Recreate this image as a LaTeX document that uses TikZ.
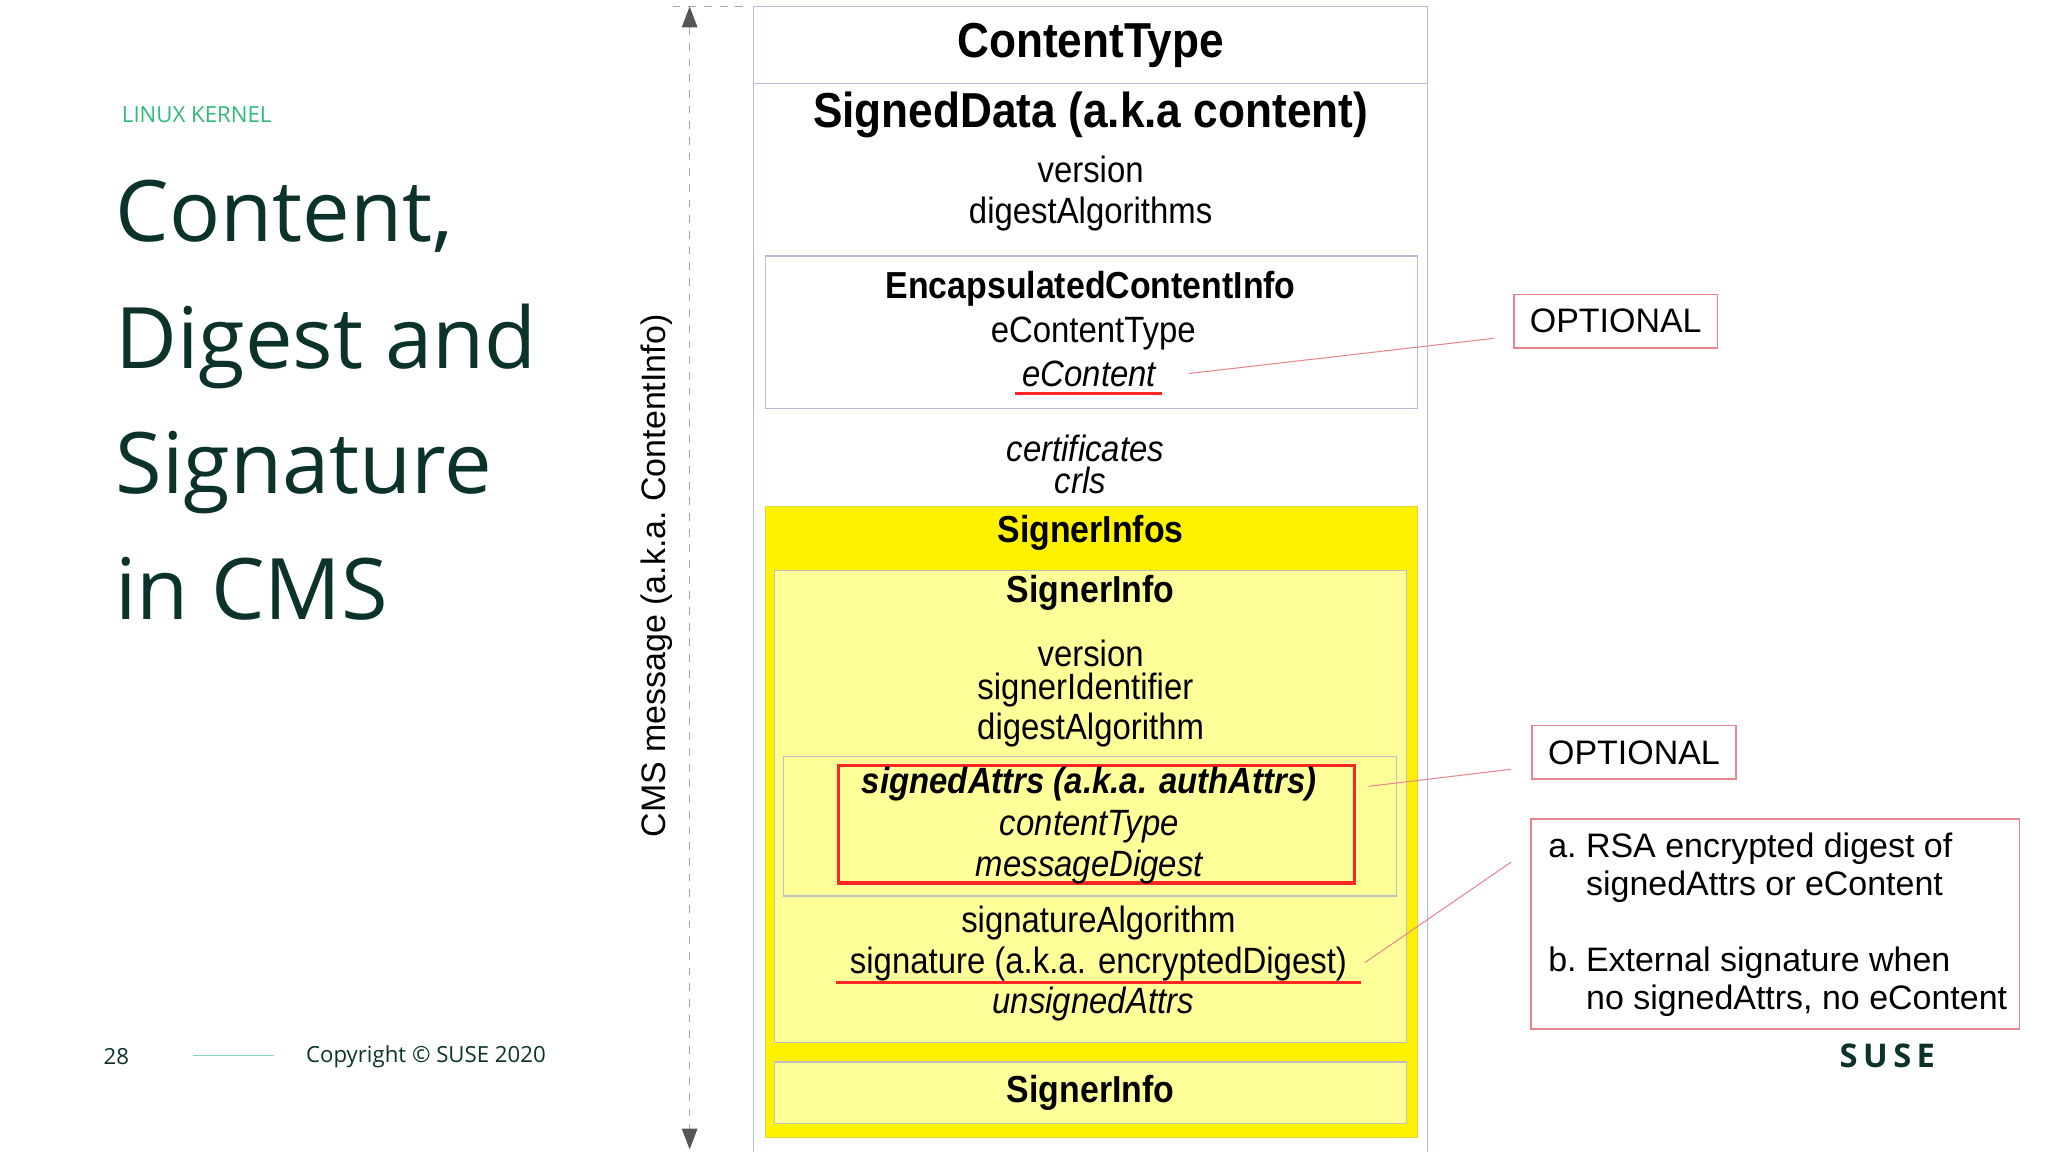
\documentclass[tikz,border=0pt]{standalone}
\usepackage{fontspec}
\setmainfont{Liberation Sans}
\newfontfamily\nar[FakeStretch=0.9]{Liberation Sans}
\newfontfamily\suse{Open Sans}
\usetikzlibrary{arrows.meta}
\definecolor{susegreen}{HTML}{0C322C}
\definecolor{lightgreen}{HTML}{30BA78}
\definecolor{boxblue}{HTML}{B4BCD8}
\definecolor{lyellow}{HTML}{FFFF99}
\definecolor{optred}{HTML}{E8868E}
\definecolor{tipgray}{HTML}{555555}
\tikzset{
 t/.style={inner sep=0pt,font=\nar\fontsize{14}{16}\selectfont},
 ti/.style={t,font=\nar\itshape\fontsize{14}{16}\selectfont},
 tb/.style={inner sep=0pt,font=\nar\bfseries\fontsize{14.4}{16}\selectfont},
 tbig/.style={inner sep=0pt,font=\nar\bfseries\fontsize{18.8}{20}\selectfont},
 optbox/.style={draw=optred,line width=0.6pt,inner sep=0pt},
 ttl/.style={anchor=base west,inner sep=0pt,text=susegreen,font=\suse\fontsize{32.5}{36}\selectfont},
 pin/.style={draw=optred,line width=0.4pt},
}
\begin{document}
\begin{tikzpicture}[x=0.5pt,y=-0.5pt]
\useasboundingbox[fill=white] (0,0) rectangle (1568,882);
% left side
\node[anchor=west,inner sep=0pt,text=lightgreen,font=\suse\fontsize{8.5}{10}\selectfont] (kern) at (93,88) {LINUX KERNEL};
\node[ttl] (l1) at (88,185) {Content,};
\node[ttl] (l2) at (88,282) {Digest and};
\node[ttl] (l3) at (88,378) {Signature};
\node[ttl] (l4) at (88,474) {in CMS};
\node[anchor=west,inner sep=0pt,text=susegreen,font=\suse\fontsize{8.5}{10}\selectfont] (pg) at (79,809) {28};
\draw[lightgreen!60,line width=0.5pt] (148,808) -- (210,808);
\node[anchor=west,inner sep=0pt,text=susegreen,font=\suse\fontsize{8.5}{10}\selectfont] (copy) at (234,809) {Copyright © SUSE 2020};
\node[inner sep=0pt,text=susegreen,font=\suse\bfseries\fontsize{12.5}{14}\selectfont] (logo) at (1445,808) {S\,U\,S\,E};
% CMS arrow
\coordinate (at) at (528,5);
\coordinate (ab) at (528,880);
\draw[gray!70,dashed,line width=0.4pt] (515,5) -- (572,5);
\draw[gray!70,dashed,line width=0.4pt,{Triangle[length=8pt,width=6pt,color=tipgray]}-{Triangle[length=8pt,width=6pt,color=tipgray]}] (at) -- (ab);
\node[rotate=90,inner sep=0pt,font=\fontsize{13}{15}\selectfont] (cms) at (503,441) {CMS message (a.k.a.\ ContentInfo)};
% outer box
\draw[boxblue,line width=0.5pt] (577,884) -- (577,5) -- (1093,5) -- (1093,884);
\draw[boxblue,line width=0.5pt] (577,64) -- (1093,64);
\node[tbig] (ct) at (835,35) {ContentType};
\node[tbig] (sd) at (835,88) {SignedData (a.k.a content)};
\node[t] (v1) at (835,130) {version};
\node[t] (da) at (835,164) {digestAlgorithms};
% encap
\draw[boxblue,line width=0.5pt] (586,196) rectangle (1085,313);
\node[tb] (eci) at (835,221) {EncapsulatedContentInfo};
\node[t] (ect) at (837,255) {eContentType};
\node[ti] (ec) at (834,286) {eContent};
\draw[red!85!white,line width=1.2pt] (777,301) -- (890,301);
\node[ti] (cert) at (831,343) {certificates};
\node[ti] (crl) at (827,368) {crls};
% signerinfos
\draw[fill=yellow,draw=yellow!70!gray,line width=0.5pt] (586,388) rectangle (1085,871);
\node[tb] (sis) at (835,408) {SignerInfos};
\draw[fill=lyellow,draw=gray!50,line width=0.5pt] (593,437) rectangle (1077,798);
\node[tb] (si) at (835,454) {SignerInfo};
\node[t] (v2) at (835,500) {version};
\node[t] (sid) at (831,528) {signerIdentifier};
\node[t] (dga) at (835,559) {digestAlgorithm};
\draw[gray!50,line width=0.5pt] (600,579) rectangle (1069,686);
\draw[red!85!white,line width=1.3pt] (642,586) rectangle (1037,676);
\node[tb,font=\nar\bfseries\itshape\fontsize{14}{16}\selectfont] (sa) at (834,600) {signedAttrs (a.k.a. authAttrs)};
\node[ti] (ctp) at (834,633) {contentType};
\node[ti] (md) at (834,664) {messageDigest};
\node[t] (sga) at (841,707) {signatureAlgorithm};
\node[t] (sg) at (841,738) {signature (a.k.a. encryptedDigest)};
\draw[red!85!white,line width=1.2pt] (640,752) -- (1042,752);
\node[ti] (ua) at (837,769) {unsignedAttrs};
\draw[fill=lyellow,draw=gray!50,line width=0.5pt] (593,813) rectangle (1077,860);
\node[tb] (si2) at (835,837) {SignerInfo};
% annotations
\node[optbox,minimum width=78pt,minimum height=20.5pt,font=\fontsize{13}{15}\selectfont] (opt1) at (1237,246) {OPTIONAL};
\node[optbox,minimum width=78pt,minimum height=20.5pt,font=\fontsize{13}{15}\selectfont] (opt2) at (1251,576) {OPTIONAL};
\node[optbox,minimum width=187pt,minimum height=80.5pt] (note) at (1359,707.5) {};
\node[anchor=west,inner sep=0pt,font=\fontsize{13}{15}\selectfont] (na1) at (1185,650) {a.\ RSA encrypted digest of};
\node[anchor=west,inner sep=0pt,font=\fontsize{13}{15}\selectfont] (na2) at (1214,679) {signedAttrs or eContent};
\node[anchor=west,inner sep=0pt,font=\fontsize{13}{15}\selectfont] (nb1) at (1185,737) {b.\ External signature when};
\node[anchor=west,inner sep=0pt,font=\fontsize{13}{15}\selectfont] (nb2) at (1214,766) {no signedAttrs, no eContent};
\coordinate (p1) at (910,286);
\coordinate (q1) at (1144,259);
\coordinate (p2) at (1048,602);
\coordinate (q2) at (1157,589);
\coordinate (p3) at (1045,737);
\coordinate (q3) at (1157,660);
\draw[pin] (p1) -- (q1);
\draw[pin] (p2) -- (q2);
\draw[pin] (p3) -- (q3);
\end{tikzpicture}
\end{document}
